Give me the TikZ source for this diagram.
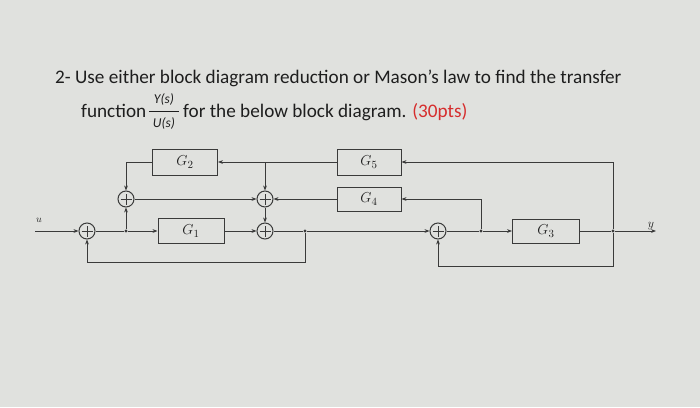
\documentclass[tikz,border=0pt]{standalone}
\usepackage{fontspec}
\setmainfont{Carlito}
\usetikzlibrary{arrows.meta,calc}
\definecolor{bg}{RGB}{224,225,222}
\definecolor{ink}{RGB}{58,58,58}
\definecolor{txt}{RGB}{30,30,30}
\definecolor{redtxt}{RGB}{214,45,45}
\begin{document}
\begin{tikzpicture}[x=1pt,y=-1pt,
  wire/.style={draw=ink, line width=1pt},
  arr/.style={wire, -{Stealth[length=5pt,width=3.8pt]}},
  blk/.style={draw=ink, line width=1pt, inner sep=0pt, minimum height=25pt, font=\fontsize{15.5}{15.5}\selectfont, text=txt},
  sumj/.style={circle, draw=ink, line width=1pt, minimum size=16pt, inner sep=0pt,
    path picture={\draw[ink, line width=0.9pt]
      ($(path picture bounding box.center)+(-5.5pt,0)$) -- ($(path picture bounding box.center)+(5.5pt,0)$)
      ($(path picture bounding box.center)+(0,-5.5pt)$) -- ($(path picture bounding box.center)+(0,5.5pt)$);}},
  dot/.style={circle, fill=ink, inner sep=0pt, minimum size=3.4pt},
  ttl/.style={anchor=base west, inner sep=0pt, text=txt, font=\fontsize{19.2}{19.2}\selectfont}
]
\fill[bg] (0,0) rectangle (700,407);
\useasboundingbox (0,0) rectangle (700,407);

% title
\node[ttl] (line1) at (55,83) {2- Use either block diagram reduction or Mason’s law to find the transfer};
\node[ttl] (fn) at (81,117) {function};
\node[inner sep=0pt, text=txt, font=\fontsize{13.5}{13.5}\selectfont\itshape] (num) at (164,99) {Y(s)};
\node[inner sep=0pt, text=txt, font=\fontsize{13.5}{13.5}\selectfont\itshape] (den) at (164,123) {U(s)};
\node[fill=txt, minimum width=30pt, minimum height=1.2pt, inner sep=0pt] (bar) at (164,111.5) {};
\node[ttl] (rest) at (183,117) {for the below block diagram. \textcolor{redtxt}{(30pts)}};

% blocks
\node[blk, minimum width=65pt, minimum height=26pt] (G2) at (185,162) {$G_2$};
\node[blk, minimum width=64pt, minimum height=26pt] (G5) at (369,162) {$G_5$};
\node[blk, minimum width=64pt, minimum height=24pt] (G4) at (369,199) {$G_4$};
\node[blk, minimum width=66pt] (G1) at (191,231) {$G_1$};
\node[blk, minimum width=67pt, minimum height=24pt] (G3) at (546,231) {$G_3$};

% summing junctions
\node[sumj] (s1) at (87,231) {};
\node[sumj] (s2) at (126,199) {};
\node[sumj] (s3) at (265,199) {};
\node[sumj] (s4) at (265,231) {};
\node[sumj] (s5) at (438,231) {};

% branch points
\node[dot] (b1) at (126,231) {};
\node[dot] (b2) at (305,231) {};
\node[dot] (b3) at (481,231) {};
\node[dot] (b4) at (613,231) {};
\coordinate (t1) at (265,162);
\coordinate (uin) at (35,231);
\coordinate (yout) at (656,231);
\coordinate (fl) at (87,262);
\coordinate (fr) at (438,266);

% labels
\node[text=txt, font=\fontsize{10}{10}\selectfont] (ulab) at (39,220) {$u$};
\node[text=txt, font=\fontsize{12}{12}\selectfont] (ylab) at (651,226) {$y$};

% connectors
\draw[arr] (uin) -- (s1.west);
\draw[wire] (s1.east) -- (b1);
\draw[arr] (b1) -- (G1.west);
\draw[arr] (b1) -- (s2.south);
\draw[arr] (G1.east) -- (s4.west);
\draw[wire] (s4.east) -- (b2);
\draw[arr] (b2) -- (s5.west);
\draw[wire] (s5.east) -- (b3);
\draw[arr] (b3) -- (G3.west);
\draw[wire] (G3.east) -- (b4);
\draw[arr] (b4) -- (yout);
\draw[arr] (b2) |- (fl) -- (s1.south);
\draw[arr] (b4) |- (fr) -- (s5.south);
\draw[arr] (b3) |- (G4.east);
\draw[arr] (b4) |- (G5.east);
\draw[arr] (G5.west) -- (G2.east);
\draw[arr] (t1) -- (s3.north);
\draw[arr] (G4.west) -- (s3.east);
\draw[arr] (s3.south) -- (s4.north);
\draw[arr] (G2.west) -| (s2.north);
\draw[arr] (s2.east) -- (s3.west);
\end{tikzpicture}
\end{document}
